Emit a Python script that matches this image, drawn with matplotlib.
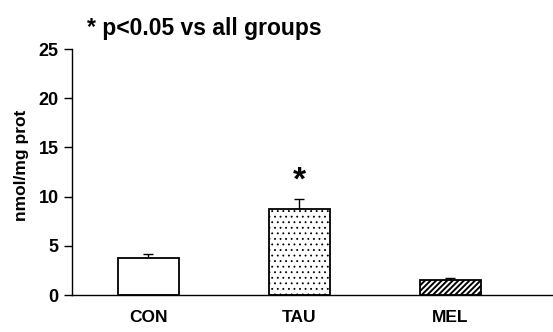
import matplotlib
matplotlib.use("Agg")
import matplotlib.pyplot as plt

plt.rcParams['font.family'] = ['Liberation Sans', 'DejaVu Sans']
plt.rcParams['font.weight'] = 'bold'
plt.rcParams['hatch.linewidth'] = 1.4

groups = ["CON", "TAU", "MEL"]
means = [3.8, 8.7, 1.5]
errors = [0.35, 1.1, 0.2]
hatches = ["", "...", "//////"]
sig_group = "TAU"

fig = plt.figure(figsize=(5.53, 3.32), dpi=100)
ax = fig.add_axes([0.130, 0.1114, 0.870, 0.741])

x = list(range(len(groups)))
bars = ax.bar(x, means, width=0.404, color="white", edgecolor="black",
              linewidth=1.3, zorder=2)
for b, h in zip(bars, hatches):
    b.set_hatch(h)
    if h.startswith(".") and hasattr(b, "set_hatch_linewidth"):
        b.set_hatch_linewidth(0.6)
ax.errorbar(x, means, yerr=[[0] * len(errors), errors], fmt="none",
            ecolor="black", elinewidth=1.0, capsize=3.5, capthick=1.0, zorder=1)

# significance mark
i = groups.index(sig_group)
ax.text(x[i], means[i] + errors[i] + 0.2, "*", ha="center", va="bottom",
        fontsize=24, fontweight="bold")

ax.set_xlim(-0.507, 2.679)
ax.set_ylim(0, 25)
ax.set_yticks([0, 5, 10, 15, 20, 25])
ax.set_xticks(x)
ax.set_xticklabels(groups)
ax.tick_params(axis="x", length=0, pad=11, labelsize=12.5)
ax.tick_params(axis="y", length=6, width=1.0, labelsize=13, direction="out")
ax.spines["top"].set_visible(False)
ax.spines["right"].set_visible(False)
ax.spines["left"].set_linewidth(1.0)
ax.spines["bottom"].set_linewidth(1.0)
ax.set_ylabel("nmol/mg prot", fontsize=12.5, fontweight="bold")
ax.yaxis.set_label_coords(-0.09, 0.528)

fig.text(0.157, 0.915, "* p<0.05 vs all groups", fontsize=16.5,
         fontweight="bold", va="center")

fig.savefig("out.png", dpi=100)
